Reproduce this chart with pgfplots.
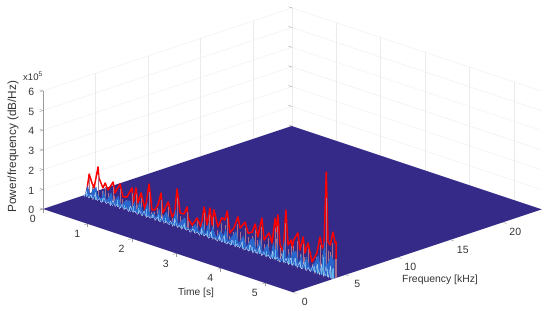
\documentclass[border=0pt]{standalone}
\usepackage{fontspec}
\setmainfont{Liberation Sans}
\usepackage{pgfplots}
\usepackage{pgfplotstable}
\pgfplotsset{compat=1.18}
\definecolor{floorblue}{HTML}{352A87}
\definecolor{txt}{HTML}{333333}
\definecolor{axgray}{HTML}{9A9A9A}
\definecolor{wallmauve}{HTML}{A8708C}
\definecolor{wallblue}{HTML}{2A66CC}
\definecolor{wallcyan}{HTML}{5FB4E8}
\definecolor{wallwhite}{HTML}{D8D8EE}
\pgfplotsset{comb/.style n args={2}{draw=none, mark=none, forget plot,
  error bars/z dir=minus, error bars/z fixed relative=1, error bars/error mark=none,
  error bars/error bar style={draw=#1, solid, line width=#2}}}
\pgfplotstableread{
t r m b c
0 0 0 0 0
.02 .25 .2 .15 .02
.07 1.10 .85 .55 .3
.135 .69 .5 .12 .02
.18 .47 .35 .42 .15
.27 1.61 1.2 .62 .36
.29 1.07 .8 .25 .04
.38 .63 .45 .1 .02
.43 .91 .7 .58 .2
.495 .61 .45 .12 .03
.61 1.10 .85 .6 .2
.65 .57 .42 .12 .02
.765 1.12 .85 .55 .34
.83 .51 .38 .1 .02
.92 .57 .42 .42 .2
1.035 1.12 .85 .5 .2
1.06 .27 .2 .08 .02
1.125 1.18 .9 .55 .32
1.17 .46 .35 .1 .02
1.24 1.02 .78 .62 .3
1.33 .22 .18 .08 .02
1.42 1.61 1.2 .7 .38
1.485 .34 .25 .1 .02
1.55 .39 .3 .3 .16
1.62 .69 .52 .1 .02
1.69 1.35 1.0 .6 .3
1.73 .37 .28 .08 .02
1.85 1.02 .78 .55 .25
1.94 .32 .25 .06 .02
2.0 .62 .48 .2 .03
2.05 1.83 1.35 .85 .42
2.12 .66 .5 .12 .03
2.21 .68 .5 .45 .16
2.275 1.08 .82 .55 .3
2.30 .54 .4 .1 .02
2.39 .25 .2 .06 .02
2.50 .69 .52 .42 .14
2.59 .30 .22 .06 .02
2.66 1.37 1.05 .65 .34
2.725 .51 .38 .1 .02
2.79 1.42 1.08 .7 .28
2.84 .59 .45 .12 .03
2.88 1.39 1.05 .6 .36
2.97 .59 .45 .1 .02
3.06 1.12 .85 .5 .3
3.13 1.07 .8 .3 .05
3.18 1.56 1.18 .72 .38
3.24 .49 .36 .1 .02
3.33 .81 .6 .45 .25
3.42 1.44 1.1 .75 .32
3.47 .91 .7 .16 .03
3.58 1.30 1.0 .65 .36
3.65 .79 .6 .14 .02
3.74 .91 .7 .55 .3
3.81 1.37 1.05 .7 .24
3.87 .76 .58 .14 .02
3.96 1.79 1.35 .8 .42
4.01 .71 .52 .12 .03
4.12 1.15 .88 .62 .3
4.19 .69 .52 .12 .02
4.26 2.01 1.5 .85 .4
4.30 1.34 1.0 .3 .05
4.32 2.22 1.65 .9 .46
4.37 .73 .55 .14 .03
4.44 .42 .32 .1 .02
4.50 2.60 1.95 1.15 .6
4.55 .86 .65 .16 .04
4.62 1.17 .88 .6 .3
4.64 .78 .58 .2 .04
4.68 1.22 .92 .65 .34
4.77 1.64 1.25 .75 .4
4.82 .81 .6 .16 .03
4.89 1.52 1.15 .7 .34
4.93 .74 .55 .14 .03
5.0 1.30 1.0 .65 .38
5.09 .41 .32 .1 .02
5.20 .95 .72 .55 .32
5.27 1.81 1.38 .95 .5
5.32 1.28 .95 .3 .06
5.36 1.47 1.1 .85 .45
5.41 5.21 3.9 1.75 .95
5.45 1.69 1.25 .5 .12
5.50 1.57 1.2 .8 .42
5.56 2.28 1.7 1.15 .6
5.61 1.76 .95 .9 .5
5.63 1.83 .95 .95 .55
5.63 0 0 0 0
}\ridge
\begin{document}
\begin{tikzpicture}[x=1pt,y=1pt]
\useasboundingbox (0,0) rectangle (550,311);
\begin{axis}[
  at={(43pt,102pt)}, anchor=origin,
  x={(44.4pt,-14.8pt)}, y={(10.5pt,3.5pt)}, z={(0pt,19.7pt)},
  xmin=0, xmax=5.63, ymin=0, ymax=23.7, zmin=0, zmax=6,
  xtick={0,1,2,3,4,5}, ytick={0,5,10,15,20}, ztick={0,1,2,3,4,5,6},
  grid=major,
  major grid style={draw=black!8, line width=0.35pt},
  axis line style={draw=none},
  tick align=outside,
  tick pos=left,
  major tick length=3.5pt,
  tick style={draw=axgray, line width=0.4pt},
  ytick style={draw=none},
  tick label style={font=\fontsize{10.5}{12}\selectfont, text=txt},
  xticklabel style={xshift=-1.5pt, yshift=-1.5pt},
  yticklabel style={xshift=3pt, yshift=-0.5pt},
  zticklabel style={xshift=-2pt},
  /pgf/number format/assume math mode=true,
  clip=false,
  xlabel={Time [s]}, ylabel={Frequency [kHz]}, zlabel={Power/frequency (dB/Hz)},
  every axis x label/.style={at={(axis cs:4.56,-4.71,0)},anchor=center,font=\fontsize{10.2}{12}\selectfont,text=txt},
  every axis y label/.style={at={(axis cs:6.87,8.76,0)},anchor=center,font=\fontsize{10.4}{12}\selectfont,text=txt},
  every axis z label/.style={at={(axis cs:-.338,-1.43,3.17)},anchor=center,rotate=90,font=\fontsize{11.8}{13}\selectfont,text=txt},
]
\addplot3[draw=none, fill=floorblue, forget plot] coordinates {(0,0,0) (5.63,0,0) (5.63,23.7,0) (0,23.7,0)} -- cycle;
\addplot3[color=red, line width=1.5pt, line join=round, forget plot] table[x=t, y expr=4.1, z=r] {\ridge};
\addplot3[comb={wallmauve}{1.0pt}] table[x=t, y expr=4.1, z=m] {\ridge};
\addplot3[draw=none, fill=wallblue, forget plot] table[x=t, y expr=3.95, z=b] {\ridge} -- cycle;
\addplot3[comb={wallcyan}{0.8pt}] table[x=t, y expr=3.85, z=c] {\ridge};
\addplot3[draw=wallwhite, line width=0.3pt, forget plot] coordinates {
(.05,3.7,0) (.1,3.7,.3) (.15,3.7,.02) (.2,3.7,.22) (.25,3.7,0) (.3,3.7,.34) (.35,3.7,.03) (.4,3.7,.18) (.45,3.7,0) (.5,3.7,.28)
(.55,3.7,.02) (.6,3.7,.15) (.65,3.7,0) (.7,3.7,.3) (.75,3.7,.03) (.8,3.7,.2) (.85,3.7,0) (.9,3.7,.26) (.95,3.7,.02) (1,3.7,.16)
(1.05,3.7,0) (1.1,3.7,.32) (1.15,3.7,.03) (1.2,3.7,.14) (1.25,3.7,0) (1.3,3.7,.24) (1.35,3.7,.02) (1.4,3.7,.3) (1.45,3.7,0) (1.5,3.7,.12)
(1.55,3.7,.03) (1.6,3.7,.26) (1.65,3.7,0) (1.7,3.7,.2) (1.75,3.7,.02) (1.8,3.7,.3) (1.85,3.7,0) (1.9,3.7,.14) (1.95,3.7,.03) (2,3.7,.24)
(2.05,3.7,0) (2.1,3.7,.38) (2.15,3.7,.02) (2.2,3.7,.16) (2.25,3.7,0) (2.3,3.7,.28) (2.35,3.7,.03) (2.4,3.7,.12) (2.45,3.7,0) (2.5,3.7,.22)
(2.55,3.7,.02) (2.6,3.7,.14) (2.65,3.7,0) (2.7,3.7,.32) (2.75,3.7,.03) (2.8,3.7,.2) (2.85,3.7,0) (2.9,3.7,.34) (2.95,3.7,.02) (3,3.7,.14)
(3.05,3.7,0) (3.1,3.7,.28) (3.15,3.7,.03) (3.2,3.7,.36) (3.25,3.7,0) (3.3,3.7,.16) (3.35,3.7,.02) (3.4,3.7,.3) (3.45,3.7,0) (3.5,3.7,.2)
(3.55,3.7,.03) (3.6,3.7,.34) (3.65,3.7,0) (3.7,3.7,.18) (3.75,3.7,.02) (3.8,3.7,.36) (3.85,3.7,0) (3.9,3.7,.22) (3.95,3.7,.03) (4,3.7,.4)
(4.05,3.7,0) (4.1,3.7,.24) (4.15,3.7,.02) (4.2,3.7,.16) (4.25,3.7,0) (4.3,3.7,.42) (4.35,3.7,.03) (4.4,3.7,.2) (4.45,3.7,0) (4.5,3.7,.46)
(4.55,3.7,.02) (4.6,3.7,.3) (4.65,3.7,0) (4.7,3.7,.38) (4.75,3.7,.03) (4.8,3.7,.44) (4.85,3.7,0) (4.9,3.7,.3) (4.95,3.7,.02) (5,3.7,.4)
(5.05,3.7,0) (5.1,3.7,.2) (5.15,3.7,.03) (5.2,3.7,.36) (5.25,3.7,0) (5.3,3.7,.5) (5.35,3.7,.02) (5.4,3.7,.6) (5.45,3.7,0) (5.5,3.7,.55) (5.55,3.7,.03) (5.6,3.7,.62) (5.63,3.7,0)};
\draw[axgray, line width=0.5pt] (axis cs:0,0,0) -- (axis cs:0,0,6);
\draw[black!8, line width=0.35pt] (axis cs:0,23.7,0) -- (axis cs:0,23.7,6);
\draw[axgray, line width=0.4pt] (axis cs:5.63,0,0) -- (axis cs:5.71,0,0);
\draw[axgray, line width=0.4pt] (axis cs:5.63,5,0) -- (axis cs:5.71,5,0);
\draw[axgray, line width=0.4pt] (axis cs:5.63,10,0) -- (axis cs:5.71,10,0);
\draw[axgray, line width=0.4pt] (axis cs:5.63,15,0) -- (axis cs:5.71,15,0);
\draw[axgray, line width=0.4pt] (axis cs:5.63,20,0) -- (axis cs:5.71,20,0);
\node[font=\fontsize{9.5}{11}\selectfont, text=txt] at (axis cs:-.113,-.476,6.75) {x10\textsuperscript{5}};
\end{axis}
\end{tikzpicture}
\end{document}
